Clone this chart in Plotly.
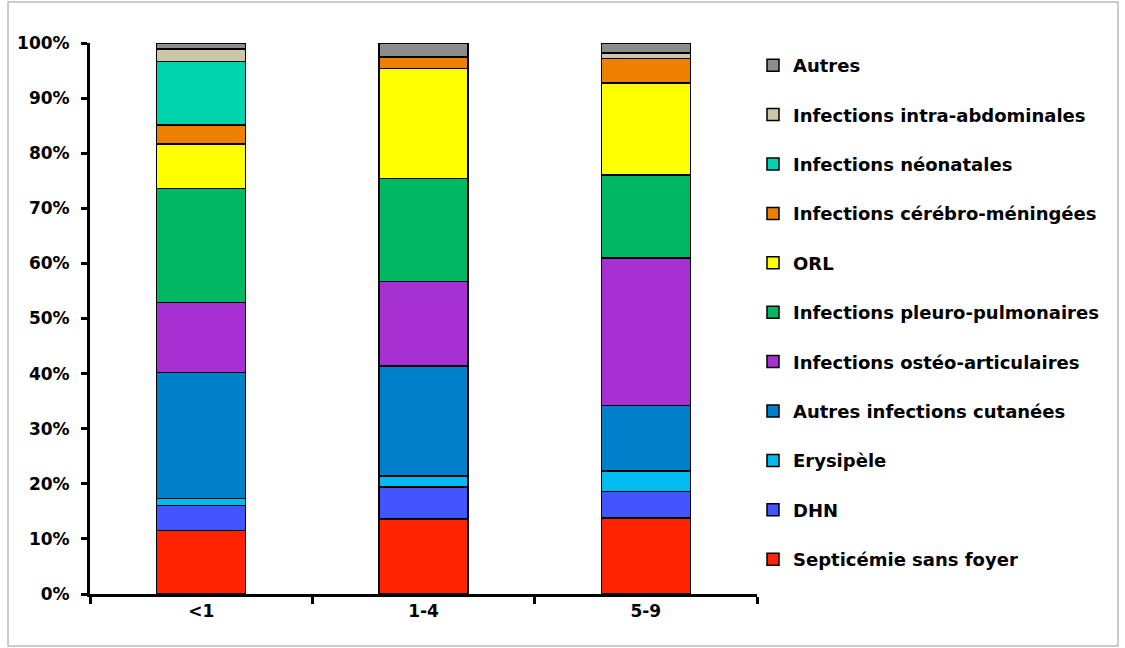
import plotly.graph_objects as go

categories = ["<1", "1-4", "5-9"]

series_names = [
    "Septicémie sans foyer",
    "DHN",
    "Erysipèle",
    "Autres infections cutanées",
    "Infections ostéo-articulaires",
    "Infections pleuro-pulmonaires",
    "ORL",
    "Infections cérébro-méningées",
    "Infections néonatales",
    "Infections intra-abdominales",
    "Autres",
]

septicemie = [11.5, 13.6, 13.8]
dhn = [4.6, 5.8, 4.8]
erysipele = [1.2, 2.0, 3.7]
autres_cutanees = [22.9, 20.0, 11.9]
osteo_articulaires = [12.7, 15.3, 26.8]
pleuro_pulmonaires = [20.7, 18.7, 15.0]
orl = [8.1, 20.0, 16.7]
cerebro_meningees = [3.4, 2.1, 4.5]
neonatales = [11.5, 0.0, 0.0]
intra_abdominales = [2.3, 0.0, 1.0]
autres = [1.1, 2.5, 1.8]

series_values = [septicemie, dhn, erysipele, autres_cutanees, osteo_articulaires,
                 pleuro_pulmonaires, orl, cerebro_meningees, neonatales,
                 intra_abdominales, autres]

colors = ["#FF2400", "#4355FF", "#00BCF0", "#0080C8", "#A630D2", "#00B862",
          "#FFFF00", "#EE8000", "#00D4AE", "#CCC7A8", "#8C8C8C"]

y_ticks = list(range(0, 101, 10))
y_tick_labels = [f"{v}%" for v in y_ticks]

FONT = "DejaVu Sans"

fig = go.Figure()
n = len(series_names)
for i, (name, vals, col) in enumerate(zip(series_names, series_values, colors)):
    fig.add_trace(go.Bar(
        x=categories, y=vals, name=name, legendgroup=name,
        legendrank=n - i,
        marker=dict(color=col, line=dict(color="black", width=1.5)),
    ))

# plot area in pixels: x 90..757, y 43..594
L, R, T, B = 90, 757, 43, 594
W, H = 1125, 648
pw, ph = R - L, B - T

def px2paper_x(px):
    return (px - L) / pw

def px2paper_y(py):
    return (B - py) / ph

fig.update_layout(
    width=W, height=H,
    margin=dict(l=L, r=W - R, t=T, b=H - B, autoexpand=False),
    barmode="stack",
    bargap=0.6,
    plot_bgcolor="white",
    paper_bgcolor="white",
    font=dict(family=FONT, size=17, color="black", weight="bold"),
    legend=dict(
        traceorder="grouped",
        tracegroupgap=23,
        x=px2paper_x(753), xanchor="left",
        y=px2paper_y(47), yanchor="top",
        font=dict(family=FONT, size=18, color="black", weight="bold"),
        bgcolor="rgba(0,0,0,0)",
    ),
    xaxis=dict(
        type="category",
        showline=True, linecolor="black", linewidth=3,
        ticks="outside", ticklen=7, tickwidth=3, tickcolor="black",
        tickson="boundaries",
        showgrid=False,
        tickfont=dict(family=FONT, size=17, weight="bold"),
    ),
    yaxis=dict(
        range=[0, 100],
        tickvals=y_ticks, ticktext=y_tick_labels,
        showline=True, linecolor="black", linewidth=3,
        ticks="outside", ticklen=6, tickwidth=3, tickcolor="black",
        showgrid=False, zeroline=False,
        ticklabelstandoff=8,
        tickfont=dict(family=FONT, size=17, weight="bold"),
    ),
    shapes=[dict(
        type="rect", xref="paper", yref="paper",
        x0=px2paper_x(8), x1=px2paper_x(1118),
        y0=px2paper_y(646), y1=px2paper_y(2),
        line=dict(color="#BBBBBB", width=1.5), fillcolor="rgba(0,0,0,0)",
        layer="below",
    )],
)

fig.write_html("out.html")
